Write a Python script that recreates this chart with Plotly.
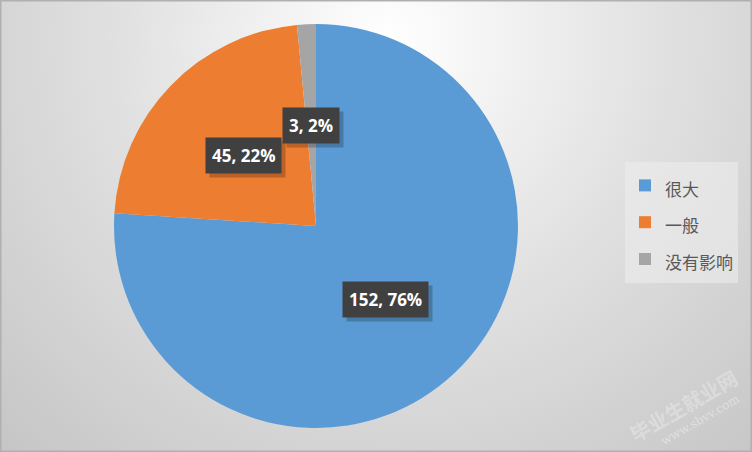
import base64, math
import plotly.graph_objects as go

categories = ["很大", "一般", "没有影响"]
values = [152, 45, 3]
percents = ["76%", "22%", "2%"]
colors = ["#5B9BD5", "#ED7D31", "#A5A5A5"]

W, H = 752, 452
cx, cy, R = 316, 226, 202

svg = f'''<svg xmlns="http://www.w3.org/2000/svg" width="{W}" height="{H}">
<defs><radialGradient id="g" gradientUnits="userSpaceOnUse" cx="390" cy="40" r="560">
<stop offset="0" stop-color="#ffffff"/><stop offset="0.5" stop-color="#e0e0e0"/><stop offset="1" stop-color="#c6c6c6"/>
</radialGradient></defs>
<rect width="{W}" height="{H}" fill="url(#g)"/></svg>'''
bg = "data:image/svg+xml;base64," + base64.b64encode(svg.encode()).decode()

dom_x = [(cx - R) / W, (cx + R) / W]
dom_y = [(H - cy - R) / H, (H - cy + R) / H]

fig = go.Figure(go.Pie(
    labels=[f"<span style='font-size:17px'>{c}</span>" for c in categories],
    values=values, sort=False, direction="clockwise", rotation=0,
    marker=dict(colors=colors, line=dict(width=0)), textinfo="none",
    hovertext=categories, hoverinfo="text+value+percent",
    domain=dict(x=dom_x, y=dom_y),
))

total = sum(values)
cum = 0
for v, p in zip(values, percents):
    mid = (cum + v / 2) / total * 2 * math.pi
    cum += v
    px = cx + math.sin(mid) * R * 0.5
    py = cy - math.cos(mid) * R * 0.5
    txt = f"<b>{v}, {p}</b>"
    common = dict(xref="paper", yref="paper", showarrow=False, xanchor="center", yanchor="middle",
                  borderpad=6, text=txt)
    # shadow
    fig.add_annotation(x=(px + 4) / W, y=(H - py - 4) / H,
                       font=dict(family="Open Sans", size=17, color="rgba(0,0,0,0)"),
                       bgcolor="rgba(0,0,0,0.22)", **common)
    fig.add_annotation(x=px / W, y=(H - py) / H,
                       font=dict(family="Open Sans", size=17, color="white"),
                       bgcolor="#404040", **common)

# watermark
fig.add_annotation(x=683 / W, y=(H - 405) / H, xref="paper", yref="paper", text="<b>毕业生就业网</b>",
                   showarrow=False, xanchor="center", yanchor="middle", textangle=-30,
                   font=dict(family="Noto Sans CJK SC", size=20, color="rgba(255,255,255,0.3)"))
fig.add_annotation(x=700 / W, y=(H - 420) / H, xref="paper", yref="paper", text="www.sbvv.com",
                   showarrow=False, xanchor="center", yanchor="middle", textangle=-30,
                   font=dict(family="DejaVu Serif", size=12, color="rgba(255,255,255,0.4)"))

fig.update_layout(
    width=W, height=H, margin=dict(l=0, r=0, t=0, b=0),
    paper_bgcolor="#d4d4d4", plot_bgcolor="rgba(0,0,0,0)",
    images=[dict(source=bg, xref="paper", yref="paper", x=0, y=1, sizex=1, sizey=1,
                 sizing="stretch", layer="below", xanchor="left", yanchor="top")],
    showlegend=True,
    legend=dict(x=625 / W, y=(H - 162) / H, xanchor="left", yanchor="top",
                bgcolor="rgba(236,236,236,0.6)", font=dict(family="Noto Sans CJK SC", size=26, color="#595959"),
                itemwidth=30, tracegroupgap=0),
    shapes=[dict(type="rect", xref="paper", yref="paper", x0=0, y0=0, x1=1, y1=1,
                 line=dict(color="#b0b0b0", width=3))],
)

fig.write_html("out.html", config={"displayModeBar": False},
               post_script="document.body.style.margin='0';")
